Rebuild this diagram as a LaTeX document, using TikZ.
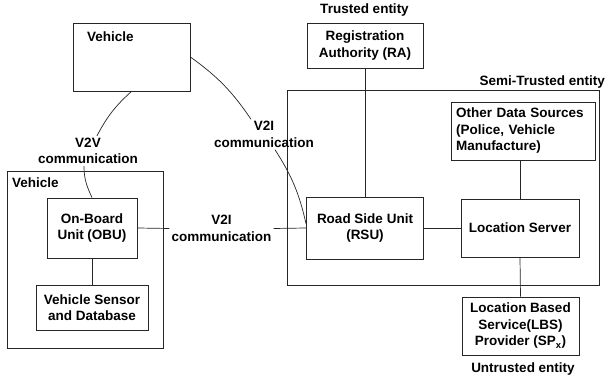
\documentclass[tikz,border=0pt]{standalone}
\usepackage{fontspec}
\setmainfont{Liberation Sans}
\begin{document}
\begin{tikzpicture}[x=1pt,y=-1pt,
  every node/.style={font=\fontsize{13.5}{16.5}\selectfont\bfseries, inner sep=2pt, align=center},
  box/.style={draw=black!85, line width=0.8pt, inner sep=0pt},
  conn/.style={draw=black!85, line width=0.7pt},
  lbl/.style={inner sep=0pt}]
\useasboundingbox (0,0) rectangle (608,382);
\fill[white] (0,0) rectangle (608,382);

% containers
\node[box, minimum width=156pt, minimum height=177pt] (vcont) at (85,259.5) {};
\node[lbl, anchor=west] (vcontlbl) at (12,183) {Vehicle};
\node[box, minimum width=312pt, minimum height=195pt] (semi) at (443,187.5) {};
\node[lbl, anchor=east] (semilbl) at (605,82) {Semi-Trusted entity};

% boxes
\node[box, minimum width=117pt, minimum height=68pt] (veh) at (131.5,57) {};
\node[lbl, anchor=west] (vehlbl) at (87,37) {Vehicle};
\node[box, minimum width=90pt, minimum height=60pt] (obu) at (92,228) {On-Board\\Unit (OBU)};
\node[box, minimum width=112pt, minimum height=45pt] (sens) at (92,307.5) {Vehicle Sensor\\and Database};
\node[box, minimum width=116pt, minimum height=45pt] (ra) at (365,45.5) {Registration\\Authority (RA)};
\node[lbl] (trusted) at (364.5,10) {Trusted entity};
\node[box, minimum width=117pt, minimum height=62pt] (rsu) at (365,228) {Road Side Unit\\(RSU)};
\node[box, minimum width=118pt, minimum height=58pt] (ls) at (520,228) {Location Server};
\node[box, text width=134pt, inner sep=5pt, minimum height=58pt, align=left] (ods) at (523,131) {Other Data Sources\\(Police, Vehicle\\Manufacture)};
\node[box, minimum width=117pt, minimum height=58pt] (lbs) at (520.5,326) {Location Based\\Service(LBS)\\Provider (SP\textsubscript{x})};
\node[lbl] (untrusted) at (523,369) {Untrusted entity};

% communication labels
\node (v2v) at (88,151) {V2V\\communication};
\node (v2it) at (264,134.5) {V2I\\communication};
\node (v2im) at (221.5,228.5) {V2I\\communication};

% connectors
\draw[conn] (veh.south) to[bend right=10] ([xshift=9pt]v2v.north);
\draw[conn] ([xshift=-4pt]v2v.south) to[out=-90,in=115] (obu.north);
\draw[conn] (veh.east) to[bend left=10] ([xshift=-13pt]v2it.north);
\draw[conn] ([xshift=11pt]v2it.south) to[bend left=10] ([yshift=4pt]rsu.west);
\draw[conn] (obu.east) -- (v2im.west);
\draw[conn] (v2im.east) -- (rsu.west);
\draw[conn] (obu.south) -- (sens.north);
\draw[conn] (ra.south) -- (rsu.north);
\draw[conn] (rsu.east) -- (ls.west);
\draw[conn] (ods.south -| ls.north) -- (ls.north);
\draw[conn] (ls.south) -- (lbs.north);
\end{tikzpicture}
\end{document}
